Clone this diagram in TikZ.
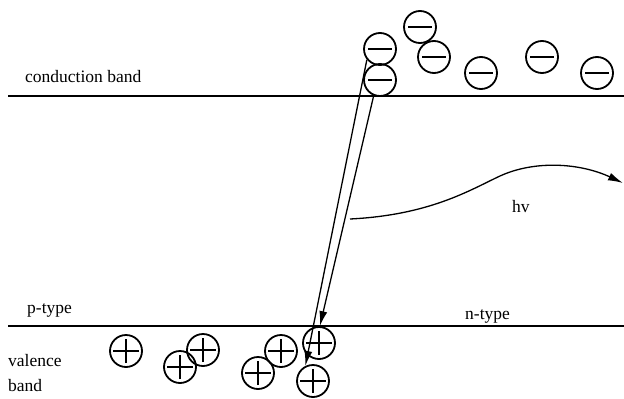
\documentclass[tikz,border=0pt]{standalone}
\usepackage{fontspec}
\setmainfont{Liberation Serif}
\usetikzlibrary{arrows.meta}

\begin{document}
\begin{tikzpicture}[x=1pt,y=-1pt,
    lbl/.style={font=\fontsize{17.5}{25}\selectfont,inner sep=0pt},
    band/.style={line width=1.6pt},
    carrier/.style={circle,draw,line width=1.8pt,minimum size=32pt,inner sep=0pt},
    elec/.style={carrier,path picture={
      \draw[line width=1.3pt]([xshift=-12pt]path picture bounding box.center)--([xshift=12pt]path picture bounding box.center);}},
    hole/.style={carrier,path picture={
      \draw[line width=1.3pt]([xshift=-13pt]path picture bounding box.center)--([xshift=13pt]path picture bounding box.center);
      \draw[line width=1.3pt]([yshift=-12pt]path picture bounding box.center)--([yshift=12pt]path picture bounding box.center);}},
    trans/.style={line width=1.3pt,-{Latex[length=15pt,width=8pt]}},
    photon/.style={line width=1.3pt,-{Latex[length=15pt,width=8pt]}}
  ]
    \useasboundingbox (0,0) rectangle (624,399);
    % bands
    \draw[band] (8,96) -- (624,96);
    \draw[band] (8,326) -- (624,326);
    \node[lbl,anchor=base west] (cb) at (25,82) {conduction band};
    \node[lbl,anchor=base west] (pt) at (27,313) {p-type};
    \node[lbl,anchor=base west] (nt) at (465,319) {n-type};
    \node[lbl,anchor=base west] (vb1) at (8,366) {valence};
    \node[lbl,anchor=base west] (vb2) at (8,391) {band};
    % electrons
    \node[elec] (e1) at (380,49) {};
    \node[elec] (e2) at (380,80) {};
    \node[elec] (e3) at (420,27) {};
    \node[elec] (e4) at (434,57) {};
    \node[elec] (e5) at (481,73) {};
    \node[elec] (e6) at (542,57) {};
    \node[elec] (e7) at (597,73) {};
    % holes
    \node[hole] (h1) at (126,351) {};
    \node[hole] (h2) at (180,367) {};
    \node[hole] (h3) at (203,350) {};
    \node[hole] (h4) at (258,373) {};
    \node[hole] (h5) at (281,351) {};
    \node[hole] (h6) at (319,343) {};
    \node[hole] (h7) at (313,381) {};
    % recombination
    \draw[trans] (e1.219) -- (h7.117);
    \draw[trans] (e2.248) -- (h6.87);
    % emitted photon
    \coordinate (hvs) at (350,219);
    \coordinate (hve) at (623,183);
    \draw[photon] (hvs) .. controls (430,215) and (470,190) .. (500,176)
      .. controls (535,160) and (580,163) .. (hve);
    \node[lbl,anchor=base west] (hv) at (512,212) {hv};
\end{tikzpicture}
\end{document}
